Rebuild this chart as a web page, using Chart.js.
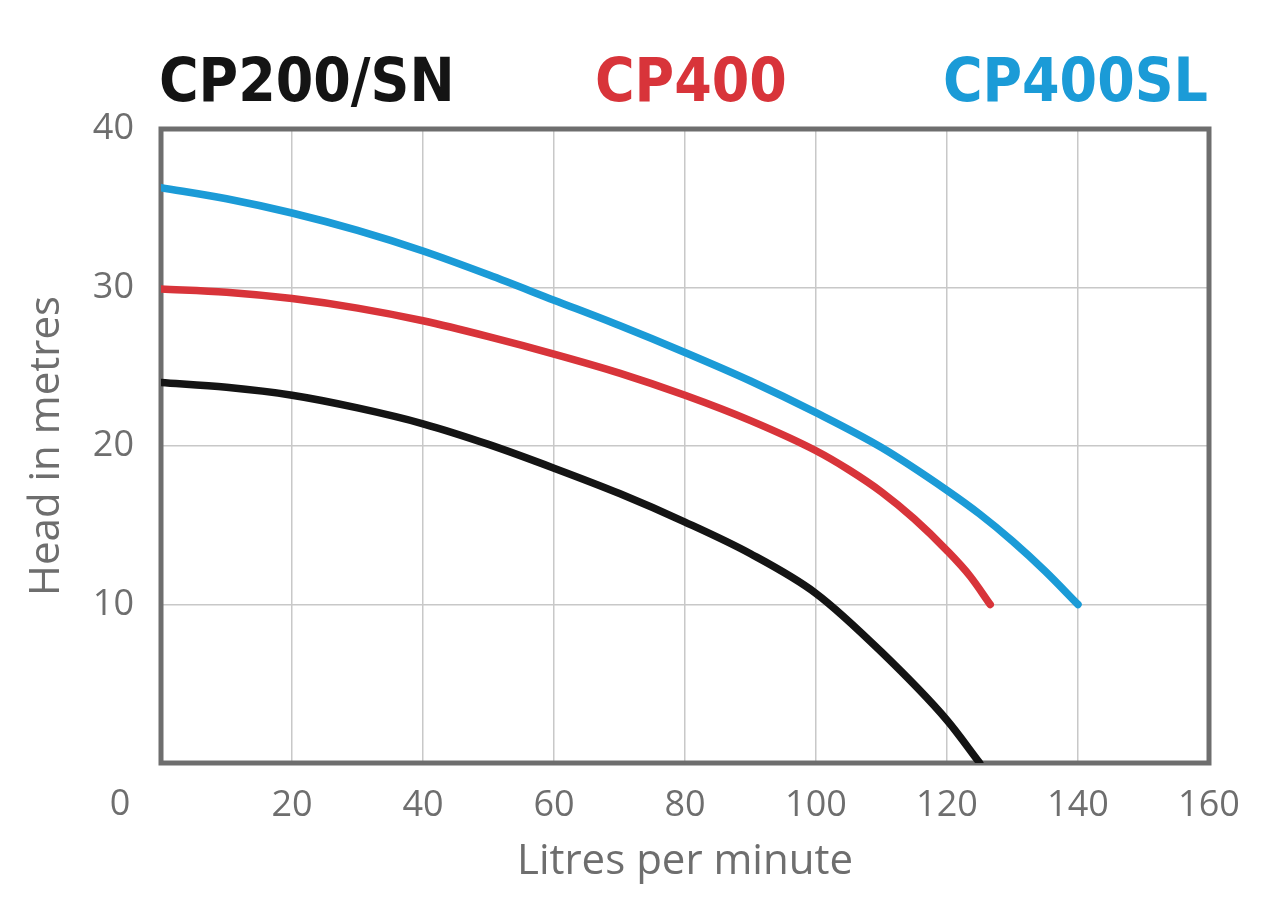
<!DOCTYPE html>
<html>
<head>
<meta charset="utf-8">
<script src="https://cdn.jsdelivr.net/npm/chart.js@4/dist/chart.umd.min.js"></script>
<style>
  html, body { margin: 0; padding: 0; background: #fff; }
  #wrap { position: relative; width: 1280px; height: 921px; }
  .model {
    position: absolute; top: 42px;
    font-family: "DejaVu Sans Condensed", "DejaVu Sans", sans-serif;
    font-weight: bold; font-size: 60px; letter-spacing: 0px; line-height: 76px;
  }
</style>
</head>
<body>
<div id="wrap">
  <canvas id="pumpChart" width="1280" height="921"></canvas>
  <div class="model" style="left:159px;color:#141414">CP200/SN</div>
  <div class="model" style="left:595px;color:#d8343a">CP400</div>
  <div class="model" style="right:72px;color:#1b9bd7">CP400SL</div>
</div>
<script>
// curvas (vazão em L/min, altura em m)
const blackFlow = [0, 10, 20, 30, 40, 50, 60, 70, 80, 90, 100, 110, 120, 125];
const blackHead = [24.0, 23.7, 23.2, 22.4, 21.4, 20.1, 18.6, 17.0, 15.2, 13.2, 10.7, 7.0, 2.7, 0];

const redFlow = [0, 10, 20, 30, 40, 50, 60, 70, 80, 90, 100, 105, 110, 115, 120, 123.5, 126.6];
const redHead = [29.9, 29.7, 29.3, 28.7, 27.9, 26.9, 25.8, 24.6, 23.2, 21.6, 19.7, 18.5, 17.1, 15.4, 13.4, 11.8, 10];

const blueFlow = [0, 10, 20, 30, 40, 50, 60, 70, 80, 90, 100, 110, 120, 125, 130, 135, 140];
const blueHead = [36.3, 35.6, 34.7, 33.6, 32.3, 30.8, 29.2, 27.6, 25.9, 24.1, 22.1, 19.9, 17.2, 15.7, 14.0, 12.1, 10];

const seriesNames = ['CP200/SN', 'CP400', 'CP400SL'];
const xTitle = 'Litres per minute';
const yTitle = 'Head in metres';

const tickFont = { family: '"Open Sans", sans-serif', size: 36 };
const titleFont = { family: '"Open Sans", sans-serif', size: 42 };
const grey = '#6e6e6e';

function points(xs, ys) {
    return xs.map((x, i) => ({ x: x, y: ys[i] }));
}

// moldura do gráfico e o "0" do canto
const framePlugin = {
    id: 'frame',
    beforeDatasetsDraw(chart) {
        const { ctx, chartArea } = chart;
        ctx.save();
        ctx.strokeStyle = '#6e6e6e';
        ctx.lineWidth = 5;
        ctx.strokeRect(chartArea.left, chartArea.top, chartArea.right - chartArea.left, chartArea.bottom - chartArea.top);
        ctx.restore();
    },
    afterDraw(chart) {
        const { ctx, chartArea } = chart;
        ctx.save();
        ctx.fillStyle = grey;
        ctx.font = '36px "Open Sans", sans-serif';
        ctx.textAlign = 'center';
        ctx.textBaseline = 'middle';
        ctx.fillText('0', chartArea.left - 41, chartArea.bottom + 42);
        ctx.restore();
    }
};

const lineStyle = { borderWidth: 7.5, pointRadius: 0, fill: false, cubicInterpolationMode: 'monotone', borderCapStyle: 'round' };

new Chart(document.getElementById('pumpChart').getContext('2d'), {
    type: 'line',
    data: {
        datasets: [
            { label: seriesNames[0], data: points(blackFlow, blackHead), borderColor: '#141414', ...lineStyle },
            { label: seriesNames[1], data: points(redFlow, redHead), borderColor: '#d8343a', ...lineStyle },
            { label: seriesNames[2], data: points(blueFlow, blueHead), borderColor: '#1b9bd7', ...lineStyle }
        ]
    },
    options: {
        responsive: false,
        animation: false,
        layout: { padding: { top: 129, right: 71, bottom: 0, left: 0 } },
        plugins: { legend: { display: false }, tooltip: { enabled: false } },
        scales: {
            x: {
                type: 'linear',
                min: 0, max: 160,
                afterFit(scale) { scale.height = 158; },
                ticks: {
                    stepSize: 20, color: grey, font: tickFont, padding: 21,
                    callback: v => (v === 0 ? '' : v)
                },
                grid: { color: '#c8c8c8', lineWidth: 1.5, drawTicks: false },
                border: { display: false },
                title: {
                    display: true, text: xTitle, color: grey, font: titleFont,
                    padding: { top: 0, bottom: 34 }
                }
            },
            y: {
                min: 0, max: 40,
                afterFit(scale) { scale.width = 161; },
                ticks: {
                    stepSize: 10, color: grey, font: tickFont, padding: 27,
                    callback: v => (v === 0 ? '' : v)
                },
                grid: { color: '#c8c8c8', lineWidth: 1.5, drawTicks: false },
                border: { display: false },
                title: {
                    display: true, text: yTitle, color: grey, font: titleFont,
                    padding: { top: 22, bottom: 0 }
                }
            }
        }
    },
    plugins: [framePlugin]
});
</script>
</body>
</html>
